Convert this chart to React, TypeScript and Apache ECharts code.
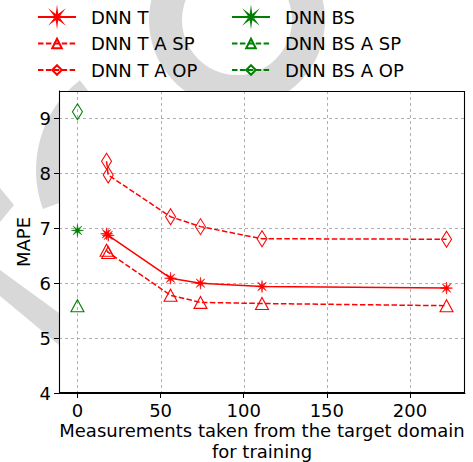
import React, { useEffect, useRef } from "react";
import * as echarts from "echarts";

// ---- data ----
const X_BS = [0];
const X_T = [17.5, 18.5, 56, 74, 111, 222];
const DNN_T = [6.9, 6.87, 6.09, 6.0, 5.94, 5.91];
const DNN_T_A_SP = [6.6, 6.56, 5.78, 5.65, 5.63, 5.59];
const DNN_T_A_OP = [8.22, 7.97, 7.21, 7.03, 6.81, 6.8];
const DNN_BS = [6.96];
const DNN_BS_A_SP = [5.59];
const DNN_BS_A_OP = [9.12];
const X_TICKS = [0, 50, 100, 150, 200];
const Y_TICKS = [4, 5, 6, 7, 8, 9];

const RED = "#ff0000";
const GREEN = "#008000";
const FONT = "DejaVu Sans";

function asteriskPath(): string {
  const pts: string[] = [];
  const n = 8;
  for (let i = 0; i < n * 2; i++) {
    const a = (i * Math.PI) / n - Math.PI / 2;
    const r = i % 2 === 0 ? 10 : 2.6;
    pts.push(`${(r * Math.cos(a)).toFixed(3)} ${(r * Math.sin(a)).toFixed(3)}`);
  }
  return "path://M" + pts.join(" L") + " Z";
}
const STAR = asteriskPath();

const G_LEFT = 59;
const G_TOP = 91;
const G_RIGHT = 8;
const G_BOTTOM = 69;
const W = 473;
const H = 462;

export default function App() {
  const ref = useRef<HTMLDivElement>(null);
  useEffect(() => {
    document.body.style.margin = "0";
    if (!ref.current) return;
    const chart = echarts.init(ref.current, undefined, { renderer: "svg" });
    const zip = (xs: number[], ys: number[]) => xs.map((x, i) => [x, ys[i]]);
    const mk = (
      name: string,
      xs: number[],
      ys: number[],
      color: string,
      dashed: boolean,
      symbol: string,
      size: number | number[],
      hollow: boolean
    ) => ({
      name,
      type: "line",
      data: zip(xs, ys),
      symbol,
      symbolSize: size,
      showAllSymbol: true,
      lineStyle: { color, width: 1.5, type: dashed ? [5.5, 2.4] : "solid" },
      itemStyle: hollow
        ? { color: "rgba(255,255,255,0)", borderColor: color, borderWidth: 1.1 }
        : { color, borderColor: color, borderWidth: 0.6 },
      z: 3,
    });
    const legendBase = {
      orient: "vertical",
      top: 6.5,
      padding: 0,
      itemWidth: 38,
      itemHeight: 12,
      itemGap: 5.5,
      selectedMode: false,
      textStyle: {
        fontSize: 18,
        fontFamily: FONT,
        color: "#000",
        lineHeight: 21,
        padding: [0, 0, 0, 10],
      },
    };
    const wm = "#d8d8d8";
    const gw = W - G_LEFT - G_RIGHT;
    const gh = H - G_TOP - G_BOTTOM;
    const baseGraphic: any[] = [
      { type: "ring", z: -10, shape: { cx: 237, cy: 20, r: 88, r0: 55 }, style: { fill: wm } },
      {
        type: "sector",
        z: -10,
        shape: {
          cx: 150,
          cy: 170,
          r: 114,
          r0: 80,
          startAngle: (160 * Math.PI) / 180,
          endAngle: (232 * Math.PI) / 180,
          clockwise: true,
        },
        style: { fill: wm },
      },
      {
        type: "polygon",
        z: -10,
        shape: { points: [[0, 188], [14, 205], [0, 222]] },
        style: { fill: wm },
      },
      {
        type: "polygon",
        z: -10,
        shape: { points: [[0, 270], [59, 313], [59, 345], [0, 296]] },
        style: { fill: wm },
      },
      {
        type: "rect",
        z: -5,
        shape: { x: G_LEFT, y: G_TOP, width: gw, height: gh },
        style: { fill: "#fff" },
      },
      {
        type: "rect",
        z: 10,
        shape: { x: G_LEFT + 0.5, y: G_TOP + 0.5, width: gw - 1, height: gh - 1 },
        style: { fill: "none", stroke: "#000", lineWidth: 1.1 },
      },
    ];
    chart.setOption({
      animation: false,
      backgroundColor: "#fff",
      graphic: baseGraphic,
      legend: [
        { ...legendBase, left: 37, data: ["DNN T", "DNN T A SP", "DNN T A OP"] },
        { ...legendBase, left: 231, data: ["DNN BS", "DNN BS A SP", "DNN BS A OP"] },
      ],
      grid: {
        left: G_LEFT,
        top: G_TOP,
        right: G_RIGHT,
        bottom: G_BOTTOM,
        outerBoundsMode: "none",
        containLabel: false,
        show: false,
      },
      xAxis: {
        type: "value",
        min: -11.1,
        max: 233.1,
        name: "Measurements taken from the target domain\nfor training",
        nameLocation: "middle",
        nameGap: 27,
        nameMoveOverlap: false,
        nameTextStyle: { fontSize: 18, fontFamily: FONT, color: "#000", lineHeight: 21 },
        axisLine: { show: true, onZero: false, lineStyle: { color: "#000", width: 1 } },
        axisTick: { show: true, length: 5, lineStyle: { color: "#000" }, customValues: X_TICKS },
        axisLabel: {
          fontSize: 18,
          fontFamily: FONT,
          color: "#000",
          margin: 8,
          customValues: X_TICKS,
        },
        splitLine: { show: false },
      },
      yAxis: {
        type: "value",
        min: 4,
        max: 9.5,
        interval: 1,
        name: "MAPE",
        nameLocation: "middle",
        nameGap: 25,
        nameMoveOverlap: false,
        nameTextStyle: { fontSize: 18, fontFamily: FONT, color: "#000", lineHeight: 21 },
        axisLine: { show: true, onZero: false, lineStyle: { color: "#000", width: 1 } },
        axisTick: { show: true, length: 5, lineStyle: { color: "#000" } },
        axisLabel: {
          fontSize: 18,
          fontFamily: FONT,
          color: "#000",
          margin: 8,
          showMaxLabel: false,
          formatter: (v: number) => (Y_TICKS.includes(v) ? String(v) : ""),
        },
        splitLine: { show: false },
      },
      series: [
        mk("DNN T", X_T, DNN_T, RED, false, STAR, 12, false),
        mk("DNN T A SP", X_T, DNN_T_A_SP, RED, true, "triangle", [13, 12], true),
        mk("DNN T A OP", X_T, DNN_T_A_OP, RED, true, "diamond", [10, 16], true),
        mk("DNN BS", X_BS, DNN_BS, GREEN, false, STAR, 12, false),
        mk("DNN BS A SP", X_BS, DNN_BS_A_SP, GREEN, true, "triangle", [13, 12], true),
        mk("DNN BS A OP", X_BS, DNN_BS_A_OP, GREEN, true, "diamond", [10, 16], true),
      ],
    });
    // grid lines placed through the chart's own scales
    const gl: any[] = [];
    const lineStyle = { stroke: "#b0b0b0", lineWidth: 1, lineDash: [3, 3] };
    X_TICKS.forEach((v) => {
      const p = chart.convertToPixel({ gridIndex: 0 }, [v, 4]) as number[];
      const x = Math.round(p[0]) + 0.5;
      gl.push({ type: "line", z: 1, shape: { x1: x, y1: G_TOP, x2: x, y2: H - G_BOTTOM }, style: lineStyle, silent: true });
    });
    Y_TICKS.filter((v) => v > 4).forEach((v) => {
      const p = chart.convertToPixel({ gridIndex: 0 }, [0, v]) as number[];
      const y = Math.round(p[1]) + 0.5;
      gl.push({ type: "line", z: 1, shape: { x1: G_LEFT, y1: y, x2: W - G_RIGHT, y2: y }, style: lineStyle, silent: true });
    });
    chart.setOption({ graphic: [...baseGraphic, ...gl] });
    return () => chart.dispose();
  }, []);
  return <div ref={ref} style={{ width: W, height: H }} />;
}
